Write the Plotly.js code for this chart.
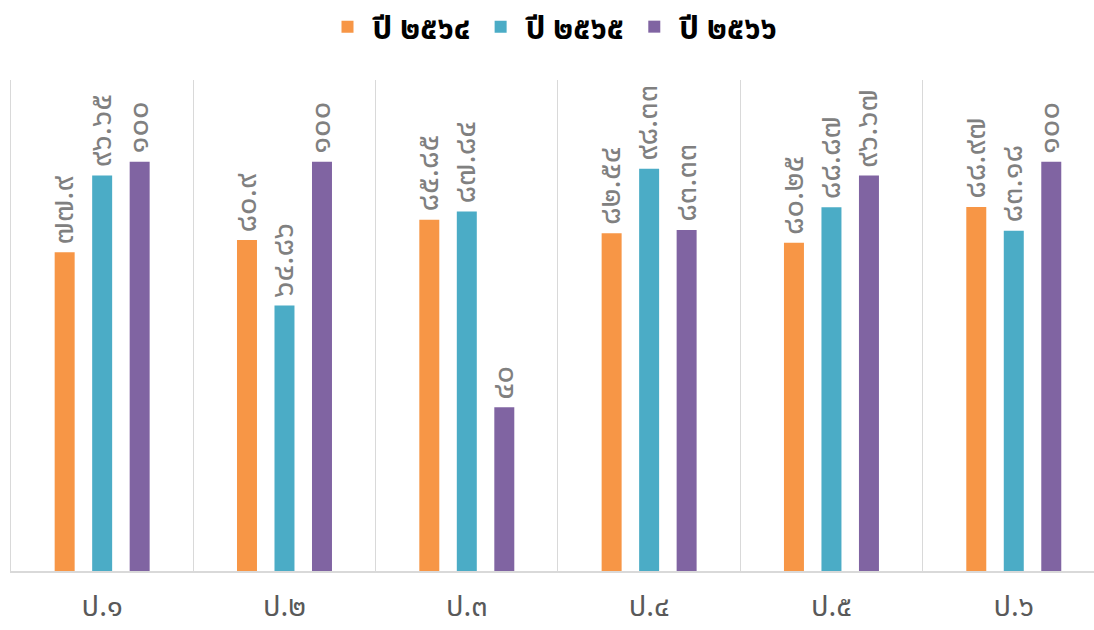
<!DOCTYPE html>
<html>
<head>
<meta charset="utf-8">
<script src="https://cdn.plot.ly/plotly-3.0.1.min.js"></script>
<style>html,body{margin:0;padding:0;background:#fff;}#chart{width:1094px;height:630px;}</style>
</head>
<body>
<div id="chart"></div>
<script>
const categories = ["ป.๑", "ป.๒", "ป.๓", "ป.๔", "ป.๕", "ป.๖"];
const seriesNames = ["ปี ๒๕๖๔", "ปี ๒๕๖๕", "ปี ๒๕๖๖"];
const y2564 = [77.9, 80.9, 85.85, 82.54, 80.25, 88.97];
const y2565 = [96.65, 64.86, 87.84, 98.33, 88.87, 83.18];
const y2566 = [100, 100, 40, 83.33, 96.67, 100];
const colors = ["#F79646", "#4BACC6", "#8064A2"];

const thaiDigits = "๐๑๒๓๔๕๖๗๘๙";
function toThai(v) {
  return String(v).replace(/[0-9]/g, d => thaiDigits[+d]);
}
const FONT = "'Noto Sans Thai', 'Tahoma', 'DejaVu Sans', sans-serif";

const series = [y2564, y2565, y2566];
const data = series.map((vals, i) => ({
  type: "bar",
  name: seriesNames[i],
  x: categories,
  y: vals,
  marker: {color: colors[i]},
  hoverinfo: "none"
}));

const offsets = [-37.5, 0, 37.5];
const annotations = [];
series.forEach((vals, i) => {
  vals.forEach((v, j) => {
    annotations.push({
      x: categories[j], y: v, xref: "x", yref: "y",
      xshift: offsets[i] - 1, yshift: 6,
      text: toThai(v), textangle: -90,
      showarrow: false, xanchor: "center", yanchor: "bottom",
      font: {family: FONT, size: 31, color: "#808080"}
    });
  });
});

const layout = {
  width: 1094, height: 630,
  margin: {l: 11, r: 0, t: 80, b: 59},
  paper_bgcolor: "#fff", plot_bgcolor: "#fff",
  barmode: "group",
  bargap: 0.383,
  bargroupgap: 0.467,
  showlegend: true,
  legend: {
    orientation: "h", x: 0.5, xanchor: "center", y: 1.0, yref: "container", yanchor: "top",
    font: {family: FONT, size: 31, color: "#000", weight: "bold"},
    itemwidth: 40, traceorder: "normal"
  },
  annotations: annotations,
  xaxis: {
    type: "category",
    range: [-0.5, 5.44],
    tickson: "boundaries",
    showgrid: true, gridcolor: "#d9d9d9", gridwidth: 1,
    showline: true, linecolor: "#d9d9d9", linewidth: 2,
    ticks: "", ticklabelstandoff: 8,
    tickfont: {family: FONT, size: 29, color: "#595959"},
    fixedrange: true
  },
  yaxis: {
    range: [0, 120],
    showgrid: false, zeroline: false,
    showticklabels: false,
    showline: true, linecolor: "#d9d9d9", linewidth: 1,
    fixedrange: true
  }
};

Plotly.newPlot("chart", data, layout, {displayModeBar: false, staticPlot: true});
</script>
</body>
</html>
